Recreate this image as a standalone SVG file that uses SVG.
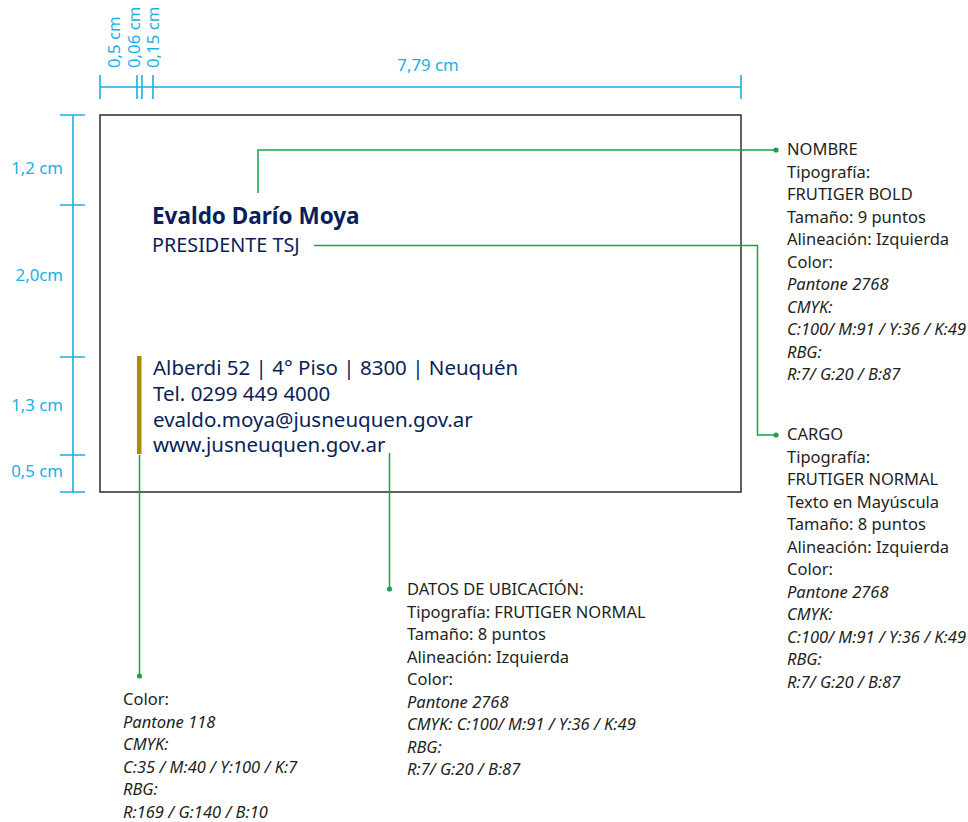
<svg xmlns="http://www.w3.org/2000/svg" width="968" height="822" viewBox="0 0 968 822">
<style>
.dim{stroke:#1aafe6;stroke-width:1.6;fill:none}
.dt{fill:#1aafe6;font-family:"Noto Sans","Liberation Sans",sans-serif;font-size:16.8px}
.con{stroke:#16a34e;stroke-width:1.5;fill:none}
.dot{fill:#16a34e}
.card{fill:#fff;stroke:#2b2b2b;stroke-width:1.5}
.nav{fill:#0a1f57;font-family:"Noto Sans","Liberation Sans",sans-serif}
.lab{fill:#231f20;font-family:"Noto Sans","Liberation Sans",sans-serif;font-size:16.5px}
.it{font-style:italic}
</style>
<rect width="968" height="822" fill="#fff"/>
<g id="dimensions">
<path class="dim" d="M100 87H741M100 75V99M137 75V99M142 75V99M153 75V99M741 75V99"/>
<text class="dt" x="428" y="71" text-anchor="middle">7,79 cm</text>
<text class="dt" transform="translate(120 68) rotate(-90)">0,5 cm</text>
<text class="dt" transform="translate(140 68) rotate(-90)">0,06 cm</text>
<text class="dt" transform="translate(159 68) rotate(-90)">0,15 cm</text>
<path class="dim" d="M73 115V492M60 115H85M60 205H85M60 357H85M60 455H85M60 492H85"/>
<text class="dt" x="63" y="174" text-anchor="end">1,2 cm</text>
<text class="dt" x="63" y="281" text-anchor="end">2,0cm</text>
<text class="dt" x="63" y="411" text-anchor="end">1,3 cm</text>
<text class="dt" x="63" y="477" text-anchor="end">0,5 cm</text>
</g>
<g id="card">
<rect class="card" x="100" y="115" width="641" height="377"/>
<rect x="137" y="356" width="4.5" height="98" fill="#a98c0a"/>
<text class="nav" x="152" y="224" font-size="22.5" font-weight="bold">Evaldo Darío Moya</text>
<text class="nav" x="152" y="252" font-size="19.8">PRESIDENTE TSJ</text>
<g class="nav" font-size="20.5">
<text x="153" y="375">Alberdi 52 | 4° Piso | 8300 | Neuquén</text>
<text x="153" y="401">Tel. 0299 449 4000</text>
<text x="153" y="426.5">evaldo.moya@jusneuquen.gov.ar</text>
<text x="153" y="452">www.jusneuquen.gov.ar</text>
</g>
</g>
<g id="connectors">
<path class="con" d="M258 193V150H776"/>
<circle class="dot" cx="776" cy="150" r="2.6"/>
<path class="con" d="M314 245.5H757.5V435H776"/>
<circle class="dot" cx="776" cy="435" r="2.6"/>
<path class="con" d="M389.5 453V589"/>
<circle class="dot" cx="389.5" cy="589" r="2.6"/>
<path class="con" d="M139.5 455V676"/>
<circle class="dot" cx="139.5" cy="676" r="2.6"/>
</g>
<g id="nombre" class="lab">
<text x="787" y="155">NOMBRE</text>
<text x="787" y="177.5">Tipografía:</text>
<text x="787" y="200">FRUTIGER BOLD</text>
<text x="787" y="222.5">Tamaño: 9 puntos</text>
<text x="787" y="245">Alineación: Izquierda</text>
<text x="787" y="267.5">Color:</text>
<text class="it" x="787" y="290">Pantone 2768</text>
<text class="it" x="787" y="312.5">CMYK:</text>
<text class="it" x="787" y="335">C:100/ M:91 / Y:36 / K:49</text>
<text class="it" x="787" y="357.5">RBG:</text>
<text class="it" x="787" y="380">R:7/ G:20 / B:87</text>
</g>
<g id="cargo" class="lab">
<text x="787" y="440">CARGO</text>
<text x="787" y="462.5">Tipografía:</text>
<text x="787" y="485">FRUTIGER NORMAL</text>
<text x="787" y="507.5">Texto en Mayúscula</text>
<text x="787" y="530">Tamaño: 8 puntos</text>
<text x="787" y="552.5">Alineación: Izquierda</text>
<text x="787" y="575">Color:</text>
<text class="it" x="787" y="597.5">Pantone 2768</text>
<text class="it" x="787" y="620">CMYK:</text>
<text class="it" x="787" y="642.5">C:100/ M:91 / Y:36 / K:49</text>
<text class="it" x="787" y="665">RBG:</text>
<text class="it" x="787" y="687.5">R:7/ G:20 / B:87</text>
</g>
<g id="datos" class="lab">
<text x="407" y="595">DATOS DE UBICACIÓN:</text>
<text x="407" y="617.5">Tipografía: FRUTIGER NORMAL</text>
<text x="407" y="640">Tamaño: 8 puntos</text>
<text x="407" y="662.5">Alineación: Izquierda</text>
<text x="407" y="685">Color:</text>
<text class="it" x="407" y="707.5">Pantone 2768</text>
<text class="it" x="407" y="730">CMYK: C:100/ M:91 / Y:36 / K:49</text>
<text class="it" x="407" y="752.5">RBG:</text>
<text class="it" x="407" y="775">R:7/ G:20 / B:87</text>
</g>
<g id="color" class="lab">
<text x="123" y="705">Color:</text>
<text class="it" x="123" y="727.5">Pantone 118</text>
<text class="it" x="123" y="750">CMYK:</text>
<text class="it" x="123" y="772.5">C:35 / M:40 / Y:100 / K:7</text>
<text class="it" x="123" y="795">RBG:</text>
<text class="it" x="123" y="817.5">R:169 / G:140 / B:10</text>
</g>
</svg>
